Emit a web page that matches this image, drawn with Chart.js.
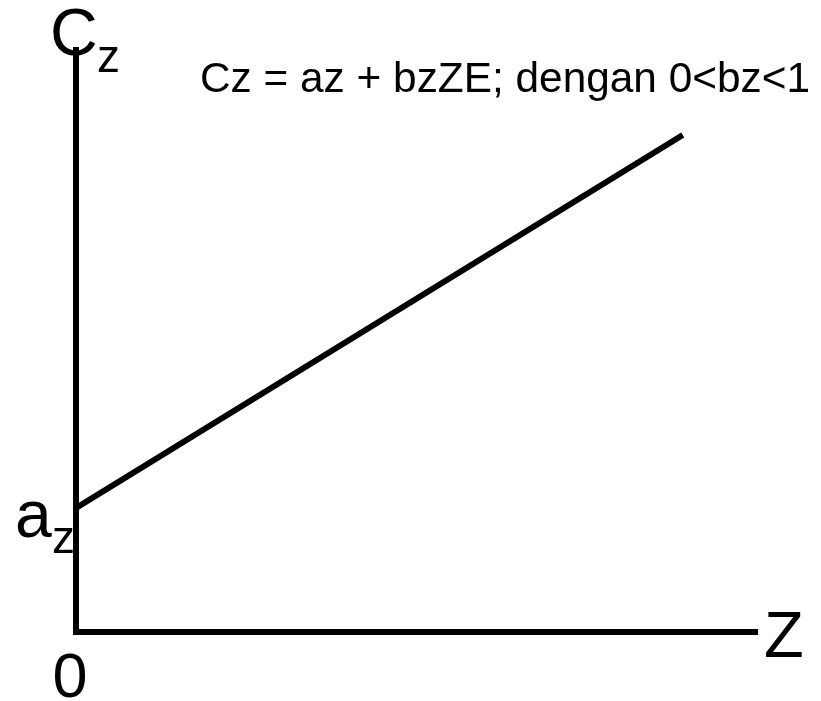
<!DOCTYPE html>
<html>
<head>
<meta charset="utf-8">
<script src="https://cdn.jsdelivr.net/npm/chart.js@4.4.1/dist/chart.umd.min.js"></script>
<style>
  html, body { margin: 0; padding: 0; background: #fff; }
  #wrap { width: 821px; height: 701px; }
</style>
</head>
<body>
<div id="wrap"><canvas id="consumptionChart"></canvas></div>
<script>
// consumption function Cz = az + bz*Z
const zValues = [0, 89.1];
const czValues = [21.3, 85.4];
const zMax = 100;
const czMax = 100;

const equationText = "Cz = az + bzZE; dengan 0<bz<1";
const font = "'Liberation Sans', Arial, sans-serif";

const labelsPlugin = {
	id: "axisLabels",
	afterDraw(chart) {
		const ctx = chart.ctx;
		const x = chart.scales.x;
		const y = chart.scales.y;
		const x0 = x.getPixelForValue(0);
		const y0 = y.getPixelForValue(0);
		const yTop = y.getPixelForValue(czMax);
		const yA = y.getPixelForValue(czValues[0]);
		ctx.save();
		ctx.fillStyle = "#000";
		ctx.textBaseline = "alphabetic";
		ctx.textAlign = "left";

		// C with subscript z
		ctx.font = "66px " + font;
		ctx.fillText("C", x0 - 26, yTop + 5);
		ctx.font = "46px " + font;
		ctx.fillText("z", x0 + 21, yTop + 22);

		// a with subscript z at the intercept
		ctx.font = "66px " + font;
		ctx.fillText("a", x0 - 61, yA + 29);
		ctx.font = "46px " + font;
		ctx.fillText("z", x0 - 24, yA + 45);

		// origin
		ctx.font = "63px " + font;
		ctx.textAlign = "center";
		ctx.fillText("0", x0 - 6, y0 + 65);

		// Z at the end of the horizontal axis
		ctx.textAlign = "left";
		ctx.font = "65px " + font;
		ctx.fillText("Z", x.right + 7, y0 + 25);

		// equation
		ctx.font = "42.5px " + font;
		const left = 200, right = 810;
		const w = ctx.measureText(equationText).width;
		ctx.translate(left, 92);
		ctx.scale((right - left) / w, 1);
		ctx.fillText(equationText, 0, 0);
		ctx.restore();
	}
};

const consumptionChart = new Chart(document.getElementById("consumptionChart").getContext("2d"), {
	type: "line",
	data: {
		datasets: [
			{
				data: zValues.map((z, i) => ({ x: z, y: czValues[i] })),
				borderColor: "#000",
				borderWidth: 6,
				pointRadius: 0,
				borderCapStyle: "butt",
				fill: false,
			},
		],
	},
	options: {
		responsive: true,
		maintainAspectRatio: false,
		animation: false,
		layout: { padding: { left: 76, right: 64, top: 50, bottom: 69 } },
		plugins: { legend: { display: false }, tooltip: { enabled: false } },
		scales: {
			x: {
				type: "linear",
				min: 0,
				max: zMax,
				grid: { display: false, drawTicks: false },
				ticks: { display: false },
				border: { display: true, color: "#000", width: 6 },
				afterFit(scale) { scale.height = 0; },
			},
			y: {
				type: "linear",
				min: 0,
				max: czMax,
				grid: { display: false, drawTicks: false },
				ticks: { display: false },
				border: { display: true, color: "#000", width: 6 },
				afterFit(scale) { scale.width = 0; },
			},
		},
	},
	plugins: [labelsPlugin],
});
</script>
</body>
</html>
